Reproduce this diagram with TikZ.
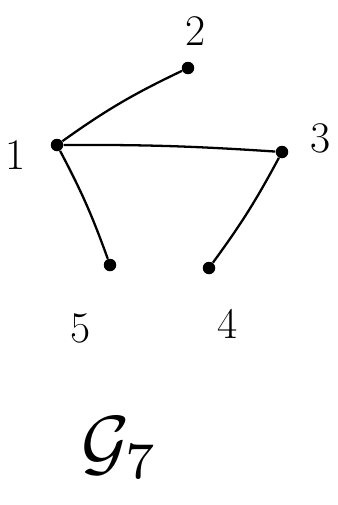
\documentclass[tikz,border=0pt]{standalone}
\usepackage{amsmath}
\usepackage{tikz}
\usetikzlibrary{calc}

\begin{document}
\begin{tikzpicture}[vertex/.style={circle,fill=black,inner sep=0pt,minimum size=0.25cm},
    lbl/.style={font=\Huge}]
  \useasboundingbox (0,0) rectangle (6.74,-10.1);
  \node[vertex] (v1) at (1.14,-2.90) {};
  \node[vertex] (v2) at (3.76,-1.36) {};
  \node[vertex] (v3) at (5.64,-3.04) {};
  \node[vertex] (v4) at (4.18,-5.36) {};
  \node[vertex] (v5) at (2.20,-5.30) {};
  \draw[line width=1.3pt] (v1) to[bend left=5] (v2);
  \draw[line width=1.3pt] (v1) to[bend left=2] (v3);
  \draw[line width=1.3pt] (v1) to[bend left=4] (v5);
  \draw[line width=1.3pt] (v3) to[bend left=4] (v4);
  \node[lbl] (l1) at (0.32,-3.10) {1};
  \node[lbl] (l2) at (3.92,-0.62) {2};
  \node[lbl] (l3) at (6.42,-2.76) {3};
  \node[lbl] (l4) at (4.56,-6.48) {4};
  \node[lbl] (l5) at (1.62,-6.56) {5};
  \node[scale=4.2] (g) at (2.40,-8.95) {$\mathcal{G}_7$};
\end{tikzpicture}
\end{document}
